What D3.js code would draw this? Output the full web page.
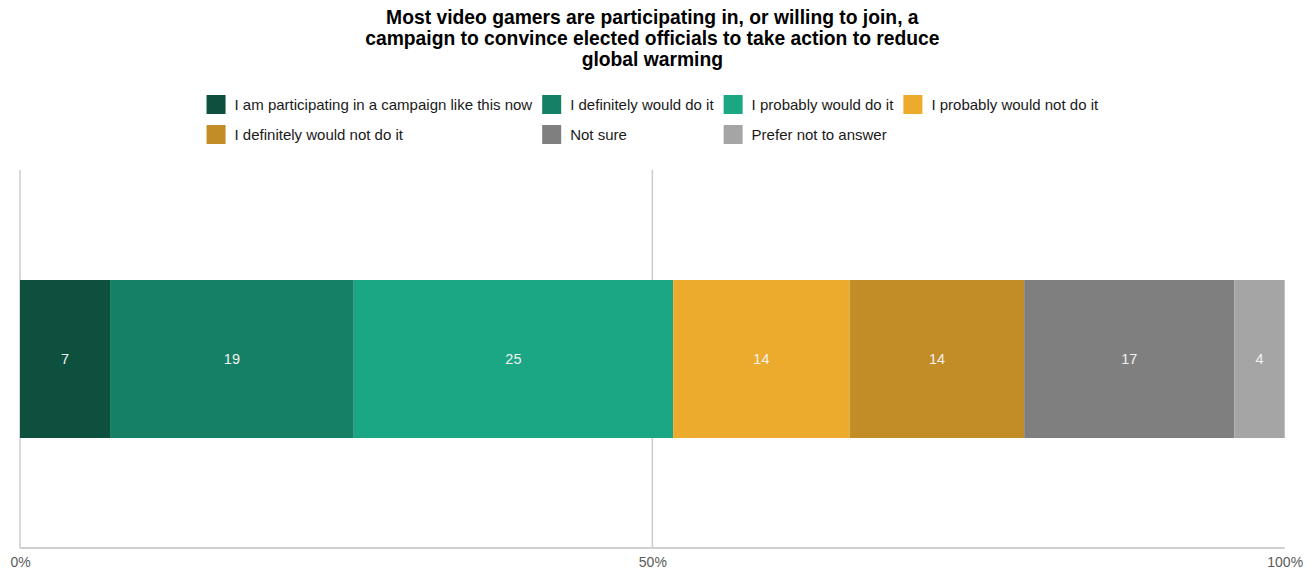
<!DOCTYPE html>
<html>
<head>
<meta charset="utf-8">
<script src="https://cdn.jsdelivr.net/npm/d3@7"></script>
<style>
  html, body { margin: 0; padding: 0; background: #fff; }
  svg { display: block; font-family: "Liberation Sans", Arial, sans-serif; }
</style>
</head>
<body>
<svg id="chart" width="1312" height="573"></svg>
<script>
const titleLines = [
  "Most video gamers are participating in, or willing to join, a",
  "campaign to convince elected officials to take action to reduce",
  "global warming"
];
const categories = ["Video gamers"];
const seriesNames = [
  "I am participating in a campaign like this now",
  "I definitely would do it",
  "I probably would do it",
  "I probably would not do it",
  "I definitely would not do it",
  "Not sure",
  "Prefer not to answer"
];
const seriesValues = [7.12, 19.27, 25.25, 13.97, 13.79, 16.62, 3.98];
const seriesColors = ["#0e503e", "#168066", "#1ba784", "#edab2e", "#c28c27", "#7f7f7f", "#a5a5a5"];
const tickValues = [0, 50, 100];
const tickLabels = ["0%", "50%", "100%"];
const gridValues = [0, 50];

const svg = d3.select("#chart");
const plot = { left: 20, right: 1284.7, top: 170, bottom: 548 };

const x = d3.scaleLinear().domain([0, 100]).range([plot.left, plot.right]);
const y = d3.scaleBand().domain(categories).range([plot.top, plot.bottom]).paddingInner(0).paddingOuter(0.696);

// Title
const cxTitle = (plot.left + plot.right) / 2;
const title = svg.append("text")
  .attr("x", cxTitle)
  .attr("y", 24)
  .attr("text-anchor", "middle")
  .attr("font-weight", "bold")
  .attr("font-size", 19.3)
  .attr("fill", "#000");
titleLines.forEach((l, i) => {
  title.append("tspan").attr("x", cxTitle).attr("dy", i === 0 ? 0 : 21).text(l);
});

// Gridlines
svg.append("g").selectAll("line").data(gridValues).join("line")
  .attr("x1", d => x(d)).attr("x2", d => x(d))
  .attr("y1", plot.top).attr("y2", plot.bottom)
  .attr("stroke", "#cccccc").attr("stroke-width", 1.5);

// Stack
const row = {};
seriesNames.forEach((s, i) => row[s] = seriesValues[i]);
row.cat = categories[0];
const stack = d3.stack().keys(seriesNames)([row]);

const bars = svg.append("g");
stack.forEach((layer, i) => {
  layer.forEach(d => {
    bars.append("rect")
      .attr("x", x(d[0]))
      .attr("y", y(d.data.cat))
      .attr("width", x(d[1]) - x(d[0]))
      .attr("height", y.bandwidth())
      .attr("fill", seriesColors[i]);
    bars.append("text")
      .attr("x", (x(d[0]) + x(d[1])) / 2)
      .attr("y", y(d.data.cat) + y.bandwidth() / 2)
      .attr("dy", "0.35em")
      .attr("text-anchor", "middle")
      .attr("font-size", 14.5)
      .attr("fill", "#f2f2f2")
      .text(Math.round(d[1] - d[0]));
  });
});

// Bottom axis line
svg.append("line")
  .attr("x1", plot.left).attr("x2", plot.right)
  .attr("y1", plot.bottom).attr("y2", plot.bottom)
  .attr("stroke", "#d0d0d0").attr("stroke-width", 2);

// Tick labels
const axis = d3.axisBottom(x).tickValues(tickValues).tickSize(0).tickFormat((d, i) => tickLabels[i]);
const ax = svg.append("g").attr("transform", `translate(0,${plot.bottom + 6})`).call(axis);
ax.select(".domain").remove();
ax.selectAll("text").attr("font-size", 14).attr("fill", "#5a5a5a").attr("font-family", "Liberation Sans, Arial, sans-serif");

// Legend (2 rows, 4 columns, by row)
const legend = svg.append("g");
const sw = 19, gapText = 9, gapItem = 10, lfs = 15;
const ncol = 4;
const rowsY = [95, 125];
const tmp = svg.append("text").attr("font-size", lfs);
const widths = seriesNames.map(s => { tmp.text(s); return tmp.node().getComputedTextLength(); });
tmp.remove();
const colW = [];
for (let c = 0; c < ncol; c++) {
  let m = 0;
  seriesNames.forEach((s, i) => { if (i % ncol === c) m = Math.max(m, widths[i]); });
  colW.push(sw + gapText + m);
}
const totalW = d3.sum(colW) + gapItem * (ncol - 1);
const colX = [];
let cx = cxTitle - totalW / 2;
colW.forEach(w => { colX.push(cx); cx += w + gapItem; });
seriesNames.forEach((s, i) => {
  const c = i % ncol, r = Math.floor(i / ncol);
  const g = legend.append("g").attr("transform", `translate(${colX[c]},${rowsY[r]})`);
  g.append("rect").attr("width", sw).attr("height", sw).attr("fill", seriesColors[i]);
  g.append("text").attr("x", sw + gapText).attr("y", sw / 2).attr("dy", "0.35em")
    .attr("font-size", lfs).attr("fill", "#1a1a1a").text(s);
});
</script>
</body>
</html>
